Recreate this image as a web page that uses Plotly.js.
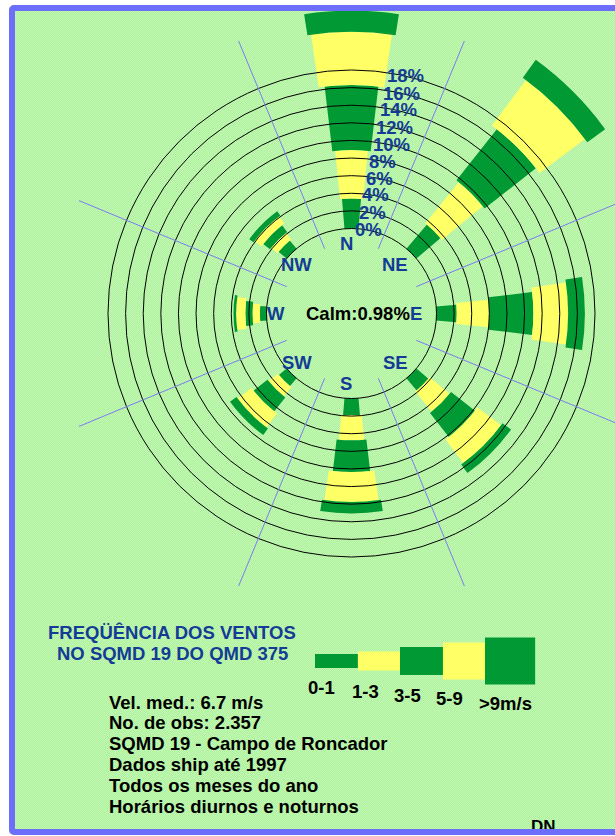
<!DOCTYPE html>
<html><head><meta charset="utf-8">
<script src="https://cdn.plot.ly/plotly-3.0.1.min.js"></script>
<style>
html,body{margin:0;padding:0;width:615px;height:836px;overflow:hidden;background:#fff;}
#bg{position:absolute;left:9px;top:5px;width:700px;height:830px;border-radius:5px;
 background-color:#b9f5a8;
 background-image:repeating-conic-gradient(#acef9f 0 25%, #c5fab2 0 50%);
 background-size:2px 2px;z-index:0;}
#frame{position:absolute;left:9px;top:5px;width:700px;height:830px;box-sizing:border-box;border:6px solid #6e6efc;border-radius:5px;z-index:3;pointer-events:none;}
#chart{position:absolute;left:0;top:-40px;width:760px;height:900px;z-index:2;}
</style></head><body>
<div id="bg"></div><div id="chart"></div><div id="frame"></div>
<script>
// ---- data ----
const directions = ['N','NE','E','SE','S','SW','W','NW'];
const dirAngles = [0,45,90,135,180,225,270,315];
const speedClasses = ['0-1','1-3','3-5','5-9','>9m/s'];
const freq_0_1 = [3.4, 3.6, 2.3, 1.8, 1.9, 1.15, 0.75, 1.2];
const freq_1_3 = [5.5, 6.0, 3.7, 2.95, 2.85, 1.35, 0.85, 0.95];
const freq_3_5 = [7.4, 7.4, 5.0, 3.45, 3.6, 2.0, 0.8, 0.95];
const freq_5_9 = [6.05, 6.45, 3.95, 3.35, 3.4, 2.0, 1.05, 1.0];
const freq_gt9 = [2.4, 2.5, 1.9, 1.2, 1.3, 0.9, 0.3, 0.6];
const ringTicks = [0,2,4,6,8,10,12,14,16,18];
const ringLabels = ['0%','2%','4%','6%','8%','10%','12%','14%','16%','18%'];
const calmText = 'Calm:0.98%';
const titleLines = ['FREQÜÊNCIA DOS VENTOS','NO SQMD 19 DO QMD 375'];
const infoLines = ['Vel. med.: 6.7 m/s','No. de obs: 2.357','SQMD 19 - Campo de Roncador','Dados ship até 1997','Todos os meses do ano','Horários diurnos e noturnos'];

// ---- style ----
const DARK = '#009933', YEL = '#ffff66', BLUE = '#143c96', SPOKE = '#7b7bf2';
const classColors = [DARK, YEL, DARK, YEL, DARK];
const classWidths = [9.5, 11.5, 13.5, 16.5, 18];
const FONT = 'Liberation Sans, Arial, sans-serif';
const FS = 18.5;

// ---- geometry (page pixels) ----
const W = 760, H = 900, OFF = 40;
const px = x => x / W;
const py = y => 1 - (y + OFF) / H;
const CX = 351.5, CY = 313.5, R0PX = 85, PXPER = 8.806, HOLEPX = 70, RMAX = 26.5;
const rMin = -(R0PX - HOLEPX) / PXPER;
const outerPx = HOLEPX + (RMAX - rMin) * PXPER;
const spokeEnd = (295 - R0PX) / PXPER;
const domain = {x: [px(CX - outerPx), px(CX + outerPx)], y: [py(CY + outerPx), py(CY - outerPx)]};

const series = [freq_0_1, freq_1_3, freq_3_5, freq_5_9, freq_gt9];
const traces = [];
let cum = dirAngles.map(() => 0);
series.forEach((s, i) => {
  traces.push({type: 'barpolar', subplot: 'polar', r: s, base: cum.slice(), theta: dirAngles,
    width: classWidths[i], marker: {color: classColors[i], line: {width: 0}}, hoverinfo: 'skip', showlegend: false});
  cum = cum.map((c, j) => c + s[j]);
});

// spokes between directions
const sr = [], st = [];
dirAngles.forEach(a => { sr.push(rMin + 0.01, spokeEnd, null); st.push(a + 22.5, a + 22.5, null); });
traces.push({type: 'scatterpolar', subplot: 'polar2', mode: 'lines', r: sr, theta: st,
  line: {color: SPOKE, width: 1}, hoverinfo: 'skip', showlegend: false});

// legend swatches (cartesian)
const legendStart = [0, 1.01, 2.0, 3.01, 4.0];
const legendLen = [1.01, 1.08, 1.06, 1.1, 1.18];
const legendHeight = [14, 19, 28, 37, 47];
speedClasses.forEach((c, i) => {
  traces.push({type: 'bar', orientation: 'h', xaxis: 'x', yaxis: 'y', x: [legendLen[i]], base: [legendStart[i]],
    y: [0], width: [legendHeight[i]], marker: {color: classColors[i], line: {width: 0}}, hoverinfo: 'skip', showlegend: false});
});

const hidden = {showgrid: false, showline: false, showticklabels: false, ticks: '', zeroline: false};
const angAx = Object.assign({direction: 'clockwise', rotation: 90}, hidden);
const polarBase = {domain: domain, hole: HOLEPX / outerPx, bgcolor: 'rgba(0,0,0,0)', barmode: 'overlay'};

const ann = [];
const T = (x, y, text, opt) => ann.push(Object.assign({xref: 'paper', yref: 'paper', x: px(x), y: py(y), text: '<b>' + text + '</b>',
  showarrow: false, xanchor: 'center', yanchor: 'middle', font: {family: FONT, size: FS, color: BLUE}}, opt || {}));

ringTicks.forEach((v, i) => T(353 + 1.75 * v, 229 - 8.5 * v, ringLabels[i], {xanchor: 'left'}));
directions.forEach((d, i) => {
  const a = dirAngles[i] * Math.PI / 180;
  T(346 + 70 * Math.sin(a), 313.5 - 70 * Math.cos(a), d);
});
T(357.5, 313, calmText, {font: {family: FONT, size: FS, color: '#000'}});
T(172, 632, titleLines[0]);
T(172, 653, titleLines[1]);
infoLines.forEach((l, i) => T(107, 702 + 20.8 * i, l, {xanchor: 'left', font: {family: FONT, size: FS, color: '#000'}}));
const legLabelPos = [[321, 687], [365, 691], [407, 695], [450, 698], [506, 703]];
speedClasses.forEach((c, i) => T(legLabelPos[i][0], legLabelPos[i][1], c, {font: {family: FONT, size: FS, color: '#000'}}));
T(543, 826, 'DN', {font: {family: FONT, size: 17, color: '#000'}});

const layout = {
  width: W, height: H, margin: {l: 0, r: 0, t: 0, b: 0},
  paper_bgcolor: 'rgba(0,0,0,0)', plot_bgcolor: 'rgba(0,0,0,0)', showlegend: false, barmode: 'overlay',
  polar: Object.assign({}, polarBase, {radialaxis: Object.assign({range: [rMin, RMAX]}, hidden), angularaxis: angAx}),
  polar2: Object.assign({}, polarBase, {
    radialaxis: {range: [rMin, RMAX], tickmode: 'array', tickvals: ringTicks, showgrid: true, gridcolor: '#000', gridwidth: 1,
      showline: false, showticklabels: false, ticks: ''},
    angularaxis: angAx}),
  xaxis: {domain: [px(315), px(315 + 5.3 * 42.5)], range: [0, 5.3], visible: false, fixedrange: true},
  yaxis: {domain: [py(661 + 31), py(661 - 31)], range: [-31, 31], visible: false, fixedrange: true},
  annotations: ann
};
Plotly.newPlot('chart', traces, layout, {displayModeBar: false, staticPlot: true});
</script>
</body></html>
